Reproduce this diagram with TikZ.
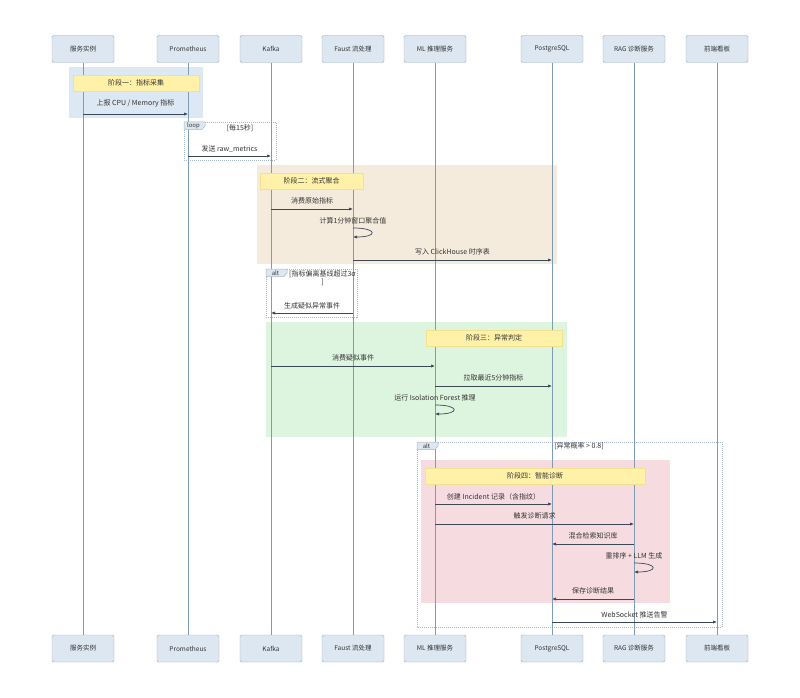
\documentclass[tikz,border=0pt]{standalone}
\usepackage{fontspec}
\setmainfont{Noto Sans CJK SC}
\usetikzlibrary{arrows.meta}
\definecolor{pfill}{HTML}{DCE7F1}
\definecolor{pdraw}{HTML}{98AFC5}
\definecolor{lifec}{HTML}{7E9CB6}
\definecolor{phA}{HTML}{DCE8F4}
\definecolor{phB}{HTML}{F5EBDD}
\definecolor{phC}{HTML}{DDF4DF}
\definecolor{phD}{HTML}{F6DCE0}
\definecolor{notef}{HTML}{FFF2A8}
\definecolor{noted}{HTML}{F2E28C}
\definecolor{msgc}{HTML}{3B4856}
\definecolor{txtc}{HTML}{333333}
\definecolor{framec}{HTML}{A9B8C8}
\definecolor{tabf}{HTML}{DCE7F1}
\tikzset{
  part/.style={draw=pdraw, fill=pfill, rounded corners=1.5pt, minimum width=62pt, minimum height=27pt, inner sep=0pt, text=txtc, font=\fontsize{6.5}{8}\selectfont},
  life/.style={draw=lifec, line width=0.8pt},
  notebox/.style={draw=noted, fill=notef, inner sep=0pt, text=txtc},
  msg/.style={draw=msgc, line width=0.7pt, -{Latex[length=4pt,width=3.2pt]}},
  lbl/.style={text=txtc, inner sep=0pt},
  frm/.style={draw=framec, dash pattern=on 1pt off 1pt, line width=0.5pt},
  tabst/.style={draw=framec, fill=tabf, line width=0.5pt},
}
\newcommand\msgline[5]{\draw[msg] (#1 |- 0,#3) -- node[lbl, yshift=#5pt]{#4} (#2 |- 0,#3);}
\newcommand\selfmsg[3]{\node[lbl] at (#1 |- 0,#2) {#3};
  \draw[msg] (#1 |- 0,#2+7) .. controls +(25,0) and +(25,0) .. (#1 |- 0,#2+16);}
\newcommand\frametab[3]{\draw[tabst] (#1,#2) -- (#1+21,#2) -- (#1+21,#2+4) -- (#1+18,#2+7.5) -- (#1,#2+7.5) -- cycle;
  \node[lbl, font=\fontsize{6}{6}\selectfont] at (#1+9.5,#2+3.8) {#3};}
\begin{document}
\begin{tikzpicture}[x=1pt, y=-1pt, font=\fontsize{7}{8}\selectfont]
\useasboundingbox (0,0) rectangle (800,698);
\fill[white] (0,0) rectangle (800,698);
% phase backgrounds
\fill[phA] (69,67) rectangle (203,118);
\fill[phB] (257,165) rectangle (557,264);
\fill[phC] (266,322) rectangle (567,437);
\fill[phD] (421,460) rectangle (670,603);
% frames
\draw[frm] (184,122) rectangle (276,160);
\draw[frm] (266,269) rectangle (357,317);
\draw[frm] (417,442) rectangle (722,627);
% participants
\node[part] (p1t) at (83,49) {服务实例};
\node[part] (p2t) at (188,49) {Prometheus};
\node[part] (p3t) at (271,49) {Kafka};
\node[part] (p4t) at (353,49) {Faust 流处理};
\node[part] (p5t) at (435,49) {ML 推理服务};
\node[part] (p6t) at (552,49) {PostgreSQL};
\node[part] (p7t) at (634,49) {RAG 诊断服务};
\node[part] (p8t) at (717,49) {前端看板};
\node[part] (p1b) at (83,648.5) {服务实例};
\node[part] (p2b) at (188,648.5) {Prometheus};
\node[part] (p3b) at (271,648.5) {Kafka};
\node[part] (p4b) at (353,648.5) {Faust 流处理};
\node[part] (p5b) at (435,648.5) {ML 推理服务};
\node[part] (p6b) at (552,648.5) {PostgreSQL};
\node[part] (p7b) at (634,648.5) {RAG 诊断服务};
\node[part] (p8b) at (717,648.5) {前端看板};
% lifelines
\foreach \i in {1,...,8} {\draw[life] (p\i t.south) -- (p\i b.north);}
% frame tabs and conditions
\frametab{184}{122}{loop}
\node[lbl] (c1) at (240,128) {[每15秒]};
\frametab{266}{269}{alt}
\node[lbl, align=center] (c2) at (322.5,278) {[指标偏离基线超过3σ\\]};
\frametab{417}{442}{alt}
\node[lbl] (c3) at (579,446) {[异常概率 > 0.8]};
% notes
\node[notebox, minimum width=126pt, minimum height=16pt] (n1) at (136,83) {阶段一：指标采集};
\node[notebox, minimum width=103pt, minimum height=16pt] (n2) at (311.5,181) {阶段二：流式聚合};
\node[notebox, minimum width=136pt, minimum height=16pt] (n3) at (494,338) {阶段三：异常判定};
\node[notebox, minimum width=220pt, minimum height=16pt] (n4) at (535,476) {阶段四：智能诊断};
% messages
\msgline{p1t}{p2t}{114}{上报 CPU / Memory 指标}{11}
\msgline{p2t}{p3t}{156}{发送 raw\_metrics}{7}
\msgline{p3t}{p4t}{209}{消费原始指标}{8}
\selfmsg{p4t}{221}{计算1分钟窗口聚合值}
\msgline{p4t}{p6t}{260}{写入 ClickHouse 时序表}{8}
\msgline{p4t}{p3t}{313}{生成疑似异常事件}{7}
\msgline{p3t}{p5t}{366}{消费疑似事件}{8}
\msgline{p5t}{p6t}{386}{拉取最近5分钟指标}{8}
\selfmsg{p5t}{398}{运行 Isolation Forest 推理}
\msgline{p5t}{p6t}{504}{创建 Incident 记录（含指纹）}{7}
\msgline{p5t}{p7t}{524}{触发诊断请求}{8}
\msgline{p7t}{p6t}{544}{混合检索知识库}{8}
\selfmsg{p7t}{556}{重排序 + LLM 生成}
\msgline{p7t}{p6t}{599}{保存诊断结果}{8}
\msgline{p6t}{p8t}{622}{WebSocket 推送告警}{7}
\end{tikzpicture}
\end{document}
